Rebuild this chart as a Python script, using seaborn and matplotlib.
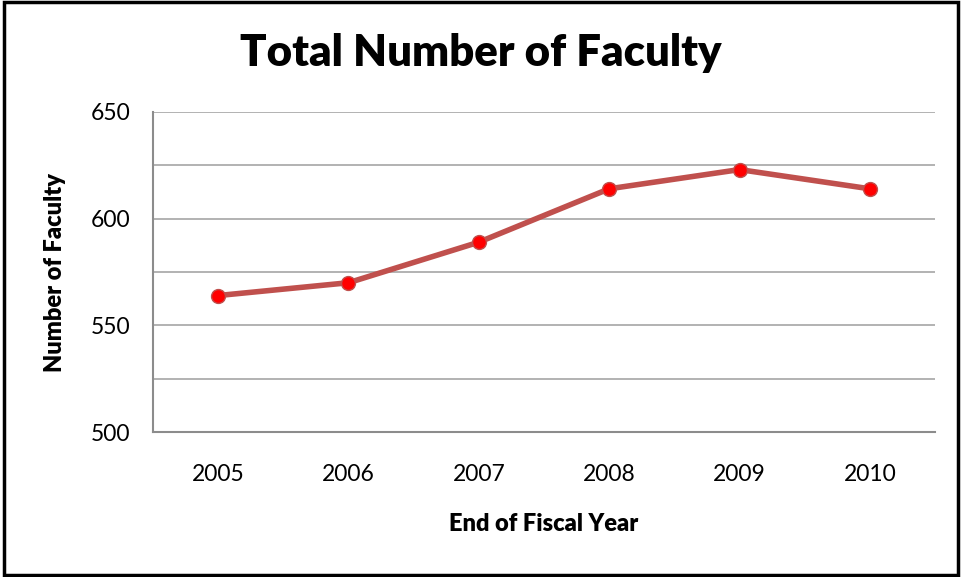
import matplotlib
matplotlib.use("Agg")
import matplotlib.pyplot as plt
import seaborn as sns
import pandas as pd

# Daten
years = ["2005", "2006", "2007", "2008", "2009", "2010"]
faculty = [564, 570, 589, 614, 623, 614]
y_ticks = [500, 550, 600, 650]

df = pd.DataFrame({"year": years, "faculty": faculty})

sns.set_theme(style="white")
plt.rcParams['font.family'] = ['Lato', 'DejaVu Sans']
plt.rcParams['text.color'] = 'black'
plt.rcParams['axes.labelcolor'] = 'black'

fig = plt.figure(figsize=(9.62, 5.77), dpi=100)
ax = fig.add_axes([0.159, 0.251, 0.813, 0.555])

sns.lineplot(data=df, x="year", y="faculty", ax=ax, color="#C0504D", linewidth=4,
             marker="o", markersize=10, markerfacecolor="#FF0000",
             markeredgecolor="#C0504D", markeredgewidth=1, sort=False)

ax.set_xlim(-0.5, 5.5)
ax.set_ylim(500, 650)
ax.set_yticks(y_ticks)
ax.set_yticks([525, 575, 625], minor=True)
ax.grid(axis="y", which="both", color="#A6A6A6", linewidth=1.2)
ax.set_axisbelow(True)

for s in ["top", "right"]:
    ax.spines[s].set_visible(False)
for s in ["left", "bottom"]:
    ax.spines[s].set_color("#8C8C8C")
    ax.spines[s].set_linewidth(1.5)

ax.tick_params(axis="both", which="both", length=0, labelsize=16.5, colors="black")
ax.tick_params(axis="y", pad=16)
ax.tick_params(axis="x", pad=23)

ax.set_xlabel("End of Fiscal Year", fontsize=17, fontweight="heavy", labelpad=20)
ax.set_ylabel("Number of Faculty", fontsize=17, fontweight="heavy", labelpad=18)

fig.text(0.5, 0.908, "Total Number of Faculty", ha="center", va="center",
         fontsize=31.5, fontweight="heavy")

# schwarzer Rahmen
fig.patches.append(plt.Rectangle((0.004, 0.003), 0.992, 0.994, transform=fig.transFigure,
                                 fill=False, edgecolor="black", linewidth=2.5))

fig.savefig("out.png", dpi=100)
